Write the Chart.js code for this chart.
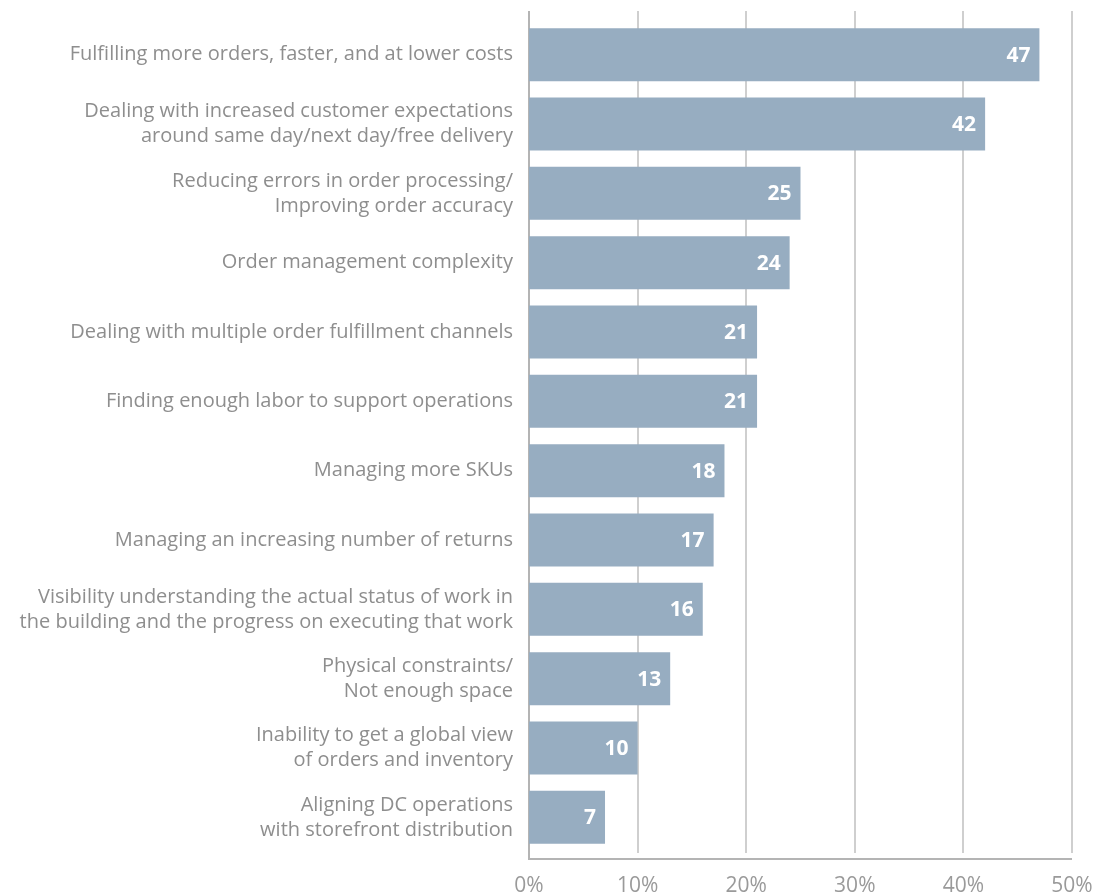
<!DOCTYPE html>
<html>
<head>
<meta charset="utf-8">
<script src="https://cdn.jsdelivr.net/npm/chart.js@4/dist/chart.umd.min.js"></script>
<style>
  html, body { margin: 0; padding: 0; background: #fff; }
  #wrap { width: 1097px; height: 895px; }
</style>
</head>
<body>
<div id="wrap"><canvas id="challengesChart" width="1097" height="895"></canvas></div>
<script>
// categories, top to bottom
const categories = [
    'Fulfilling more orders, faster, and at lower costs',
    ['Dealing with increased customer expectations', 'around same day/next day/free delivery'],
    ['Reducing errors in order processing/', 'Improving order accuracy'],
    'Order management complexity',
    'Dealing with multiple order fulfillment channels',
    'Finding enough labor to support operations',
    'Managing more SKUs',
    'Managing an increasing number of returns',
    ['Visibility understanding the actual status of work in', 'the building and the progress on executing that work'],
    ['Physical constraints/', 'Not enough space'],
    ['Inability to get a global view', 'of orders and inventory'],
    ['Aligning DC operations', 'with storefront distribution']
];
const percentValues = [47, 42, 25, 24, 21, 21, 18, 17, 16, 13, 10, 7];
const xTicks = [0, 10, 20, 30, 40, 50];

const FONT = '"Open Sans", "Noto Sans", sans-serif';
const BAR_COLOR = '#97adc1';

// drop the extra padding chart.js reserves for half-labels
function noScalePadding(scale) {
    scale.paddingTop = 0;
    scale.paddingBottom = 0;
    scale.paddingLeft = 0;
    scale.paddingRight = 0;
}

// grid + axis lines drawn a bit past the category area, like the original
const gridPlugin = {
    id: 'customGrid',
    beforeDatasetsDraw(chart) {
        const ctx = chart.ctx;
        const area = chart.chartArea;
        const x = chart.scales.x;
        ctx.save();
        ctx.strokeStyle = '#cfcfcf';
        ctx.lineWidth = 2;
        xTicks.forEach(function(t) {
            if (t === 0) return;
            const px = Math.round(x.getPixelForValue(t));
            ctx.beginPath();
            ctx.moveTo(px, area.top - 9);
            ctx.lineTo(px, area.bottom + 1);
            ctx.stroke();
        });
        // axes
        ctx.strokeStyle = '#b4b4b4';
        const x0 = Math.round(x.getPixelForValue(0));
        const x1 = Math.round(x.getPixelForValue(50));
        ctx.beginPath();
        ctx.moveTo(x0, area.top - 9);
        ctx.lineTo(x0, area.bottom + 7);
        ctx.lineTo(x1, area.bottom + 7);
        ctx.stroke();
        ctx.restore();
    }
};

// value labels inside the end of each bar
const valueLabels = {
    id: 'valueLabels',
    afterDatasetsDraw(chart) {
        const ctx = chart.ctx;
        const meta = chart.getDatasetMeta(0);
        ctx.save();
        ctx.fillStyle = '#ffffff';
        ctx.font = 'bold 21px ' + FONT;
        ctx.textAlign = 'right';
        ctx.textBaseline = 'middle';
        meta.data.forEach(function(bar, i) {
            ctx.fillText(String(percentValues[i]), bar.x - 9, bar.y + 1);
        });
        ctx.restore();
    }
};

const ctx = document.getElementById('challengesChart').getContext('2d');
const myChart = new Chart(ctx, {
    type: 'bar',
    data: {
        labels: categories,
        datasets: [{
            data: percentValues,
            backgroundColor: BAR_COLOR,
            borderWidth: 0,
            barPercentage: 0.765,
            categoryPercentage: 1
        }]
    },
    options: {
        indexAxis: 'y',
        responsive: false,
        animation: false,
        layout: { padding: { top: 20, right: 25, left: 0, bottom: 0 } },
        plugins: {
            legend: { display: false },
            tooltip: { enabled: false }
        },
        scales: {
            x: {
                min: 0,
                max: 50,
                afterFit: function(scale) {
                    scale.height = 43;
                    noScalePadding(scale);
                },
                afterBuildTicks: function(scale) {
                    scale.ticks = xTicks.map(v => ({ value: v }));
                },
                grid: { display: false, drawTicks: false },
                border: { display: false },
                ticks: {
                    padding: 21,
                    color: '#9a9a9a',
                    font: { family: FONT, size: 21 },
                    callback: function(value) { return value + '%'; }
                }
            },
            y: {
                afterFit: function(scale) {
                    scale.width = 529;
                    noScalePadding(scale);
                },
                grid: { display: false, drawTicks: false },
                border: { display: false },
                ticks: {
                    padding: 16,
                    color: '#8e8e8e',
                    font: { family: FONT, size: 20, lineHeight: 1.25 }
                }
            }
        }
    },
    plugins: [gridPlugin, valueLabels]
});
</script>
</body>
</html>
